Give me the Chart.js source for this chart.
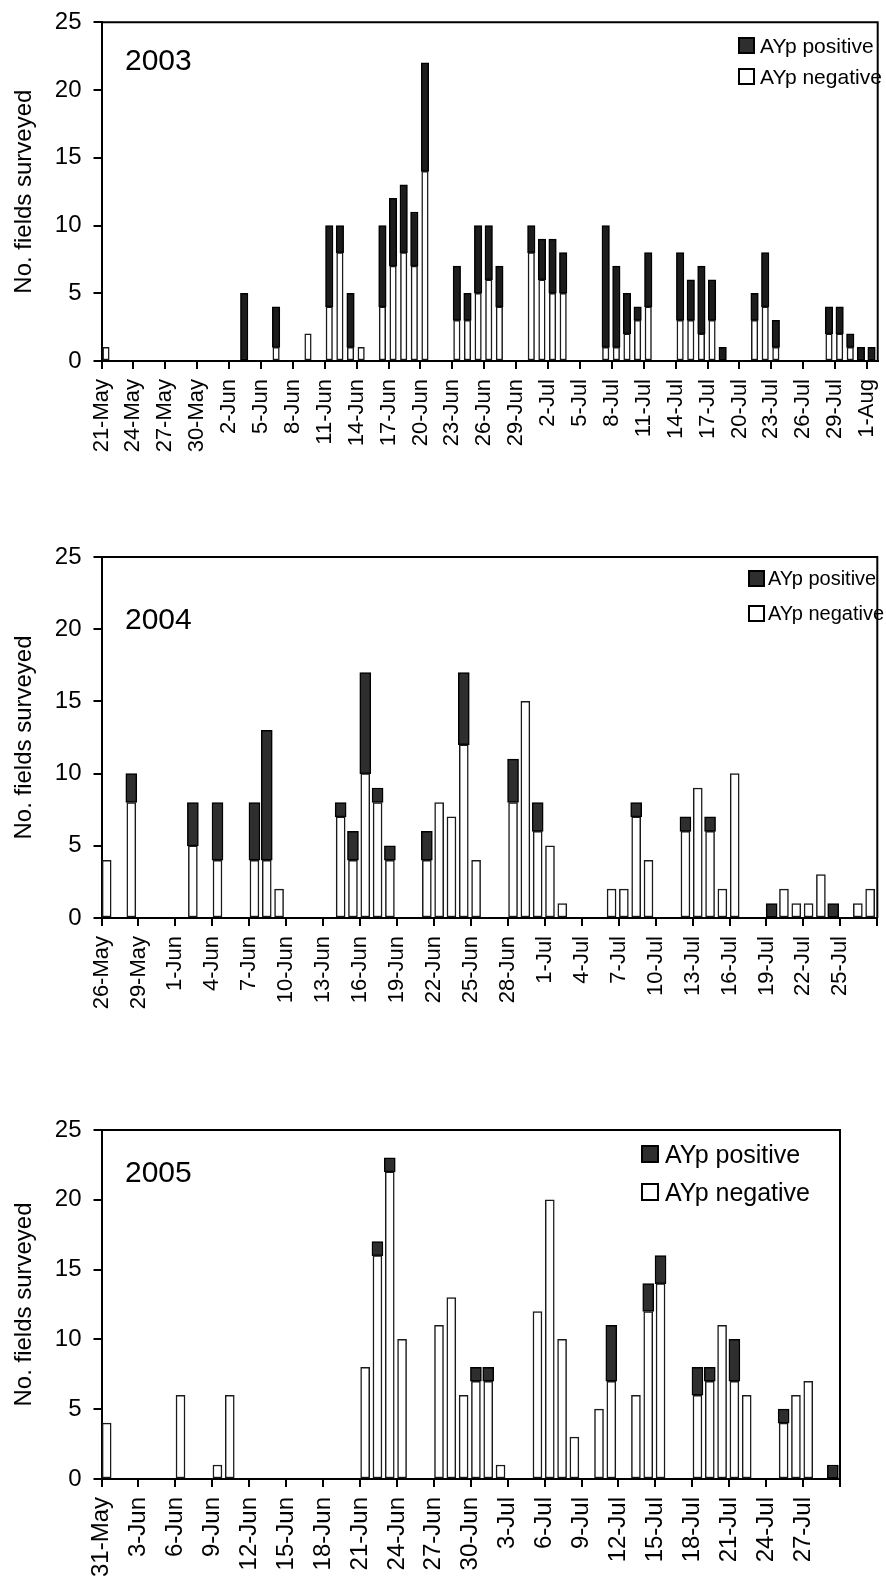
<!DOCTYPE html>
<html>
<head>
<meta charset="utf-8">
<script src="https://cdn.jsdelivr.net/npm/chart.js@4.4.0/dist/chart.umd.min.js"></script>
<style>
html,body{margin:0;padding:0;background:#fff;}
#wrap{position:relative;width:886px;height:1587px;overflow:hidden;font-family:"Liberation Sans",Arial,Helvetica,sans-serif;color:#000;}
#wrap canvas{position:absolute;left:0;}
.txt{position:absolute;line-height:1;white-space:nowrap;}
.box{position:absolute;box-sizing:border-box;border:2px solid #000;}
</style>
</head>
<body>
<div id="wrap">
  <canvas id="c2003" width="886" height="520" style="top:0px"></canvas>
  <canvas id="c2004" width="886" height="560" style="top:520px"></canvas>
  <canvas id="c2005" width="886" height="507" style="top:1080px"></canvas>

  <div class="txt" style="left:125px;top:45px;font-size:30px">2003</div>
  <div class="box" style="left:738px;top:37px;width:17px;height:17px;background:#2e2e2e"></div>
  <div class="txt" style="left:760px;top:35px;font-size:21px">AYp positive</div>
  <div class="box" style="left:738px;top:68px;width:17px;height:17px;background:#fff"></div>
  <div class="txt" style="left:760px;top:66px;font-size:21px">AYp negative</div>

  <div class="txt" style="left:125px;top:604px;font-size:30px">2004</div>
  <div class="box" style="left:748px;top:570px;width:17px;height:17px;background:#2e2e2e"></div>
  <div class="txt" style="left:768px;top:568px;font-size:20px">AYp positive</div>
  <div class="box" style="left:748px;top:605px;width:17px;height:17px;background:#fff"></div>
  <div class="txt" style="left:768px;top:603px;font-size:20px">AYp negative</div>

  <div class="txt" style="left:125px;top:1157px;font-size:30px">2005</div>
  <div class="box" style="left:641px;top:1145px;width:18px;height:18px;background:#2e2e2e"></div>
  <div class="txt" style="left:665px;top:1142px;font-size:25px">AYp positive</div>
  <div class="box" style="left:641px;top:1183px;width:18px;height:18px;background:#fff"></div>
  <div class="txt" style="left:665px;top:1180px;font-size:25px">AYp negative</div>
</div>
<script>
// ---------------- DATA ----------------
// 2003: one value per day, 21-May (index 0) to 1-Aug (index 72)
const ticks2003 = ['21-May','24-May','27-May','30-May','2-Jun','5-Jun','8-Jun','11-Jun','14-Jun','17-Jun','20-Jun','23-Jun','26-Jun','29-Jun','2-Jul','5-Jul','8-Jul','11-Jul','14-Jul','17-Jul','20-Jul','23-Jul','26-Jul','29-Jul','1-Aug'];
const neg2003 = [
  1,0,0,0,0,0,0,0,0,0,
  0,0,0,0,0,0,1,0,0,2,
  0,4,8,1,1,0,4,7,8,7,
  14,0,0,3,3,5,6,4,0,0,
  8,6,5,5,0,0,0,1,1,2,
  3,4,0,0,3,3,2,3,0,0,
  0,3,4,1,0,0,0,0,2,2,
  1,0,0];
const pos2003 = [
  0,0,0,0,0,0,0,0,0,0,
  0,0,0,5,0,0,3,0,0,0,
  0,6,2,4,0,0,6,5,5,4,
  8,0,0,4,2,5,4,3,0,0,
  2,3,4,3,0,0,0,9,6,3,
  1,4,0,0,5,3,5,3,1,0,
  0,2,4,2,0,0,0,0,2,2,
  1,1,1];

// 2004: 26-May (index 0) to 27-Jul (index 62)
const ticks2004 = ['26-May','29-May','1-Jun','4-Jun','7-Jun','10-Jun','13-Jun','16-Jun','19-Jun','22-Jun','25-Jun','28-Jun','1-Jul','4-Jul','7-Jul','10-Jul','13-Jul','16-Jul','19-Jul','22-Jul','25-Jul'];
const neg2004 = [
  4,0,8,0,0,0,0,5,0,4,
  0,0,4,4,2,0,0,0,0,7,
  4,10,8,4,0,0,4,8,7,12,
  4,0,0,8,15,6,5,1,0,0,
  0,2,2,7,4,0,0,6,9,6,
  2,10,0,0,0,2,1,1,3,0,
  0,1,2];
const pos2004 = [
  0,0,2,0,0,0,0,3,0,4,
  0,0,4,9,0,0,0,0,0,1,
  2,7,1,1,0,0,2,0,0,5,
  0,0,0,3,0,2,0,0,0,0,
  0,0,0,1,0,0,0,1,0,1,
  0,0,0,0,1,0,0,0,0,1,
  0,0,0];

// 2005: 31-May (index 0) to 29-Jul (index 59)
const ticks2005 = ['31-May','3-Jun','6-Jun','9-Jun','12-Jun','15-Jun','18-Jun','21-Jun','24-Jun','27-Jun','30-Jun','3-Jul','6-Jul','9-Jul','12-Jul','15-Jul','18-Jul','21-Jul','24-Jul','27-Jul'];
const neg2005 = [
  4,0,0,0,0,0,6,0,0,1,
  6,0,0,0,0,0,0,0,0,0,
  0,8,16,22,10,0,0,11,13,6,
  7,7,1,0,0,12,20,10,3,0,
  5,7,0,6,12,14,0,0,6,7,
  11,7,6,0,0,4,6,7,0,0];
const pos2005 = [
  0,0,0,0,0,0,0,0,0,0,
  0,0,0,0,0,0,0,0,0,0,
  0,0,1,1,0,0,0,0,0,0,
  1,1,0,0,0,0,0,0,0,0,
  0,4,0,0,2,2,0,0,2,1,
  0,3,0,0,0,1,0,0,0,1];

// ---------------- DRAWING ----------------
const FONT = '"Liberation Sans", Arial, Helvetica, sans-serif';
Chart.defaults.font.family = FONT;
Chart.defaults.color = '#000';

const frame = {
  id: 'frame',
  afterDraw(chart) {
    const {ctx, chartArea: a} = chart;
    ctx.save();
    ctx.strokeStyle = '#000';
    ctx.lineWidth = 2;
    ctx.beginPath();
    ctx.moveTo(a.left, a.top);
    ctx.lineTo(a.right, a.top);
    ctx.lineTo(a.right, a.bottom);
    ctx.stroke();
    ctx.restore();
  }
};

function points(values) {
  const out = [];
  values.forEach((v, i) => { if (v > 0) out.push({x: i + 0.42, y: v}); });
  return out;
}

function panel(id, neg, pos, tickLabels, p) {
  new Chart(document.getElementById(id), {
    type: 'bar',
    data: {
      datasets: [
        {label: 'AYp negative', data: points(neg), backgroundColor: '#ffffff', borderColor: '#1a1a1a',
         borderWidth: 1.5, borderSkipped: false, barThickness: p.negW},
        {label: 'AYp positive', data: points(pos), backgroundColor: p.posColor, borderColor: '#000000',
         borderWidth: 1.5, borderSkipped: false, barThickness: p.posW}
      ]
    },
    options: {
      responsive: false,
      animation: false,
      devicePixelRatio: 1,
      layout: {padding: {top: p.padTop, right: p.padRight, left: 0, bottom: 0}},
      plugins: {legend: {display: false}, tooltip: {enabled: false}},
      scales: {
        x: {
          type: 'linear', stacked: true, offset: false, min: 0, max: neg.length,
          grid: {display: true, drawOnChartArea: false, drawTicks: true, tickLength: 8, color: '#000', lineWidth: 2, offset: false},
          border: {display: true, color: '#000', width: 2},
          ticks: {
            stepSize: 3, autoSkip: false, includeBounds: false, maxRotation: 90, minRotation: 90,
            padding: 10, font: {size: p.tickFont}, color: '#000',
            callback: (v) => { const k = Math.round(v / 3); return tickLabels[k] !== undefined ? tickLabels[k] : ''; }
          },
          afterFit: (s) => { s.height = p.xHeight; s.paddingLeft = 0; s.paddingRight = 0; }
        },
        y: {
          stacked: true, min: 0, max: 25,
          grid: {display: true, drawOnChartArea: false, drawTicks: true, tickLength: 8, color: '#000', lineWidth: 2},
          border: {display: true, color: '#000', width: 2},
          ticks: {stepSize: 5, padding: 12, font: {size: 24}, color: '#000'},
          title: {display: true, text: 'No. fields surveyed', color: '#000', font: {size: 24}, padding: {top: 10, bottom: 0}},
          afterFit: (s) => { s.width = 101.5; s.paddingTop = 0; s.paddingBottom = 0; }
        }
      }
    },
    plugins: [frame]
  });
}

panel('c2003', neg2003, pos2003, ticks2003,
  {padTop: 22.3, padRight: 8.3, xHeight: 159, negW: 6.5, posW: 7.5, tickFont: 22, posColor: '#1c1c1c'});
panel('c2004', neg2004, pos2004, ticks2004,
  {padTop: 37, padRight: 8.7, xHeight: 162, negW: 9, posW: 11, tickFont: 22, posColor: '#2e2e2e'});
panel('c2005', neg2005, pos2005, ticks2005,
  {padTop: 50, padRight: 46, xHeight: 108, negW: 9, posW: 11, tickFont: 24, posColor: '#2e2e2e'});
</script>
</body>
</html>
